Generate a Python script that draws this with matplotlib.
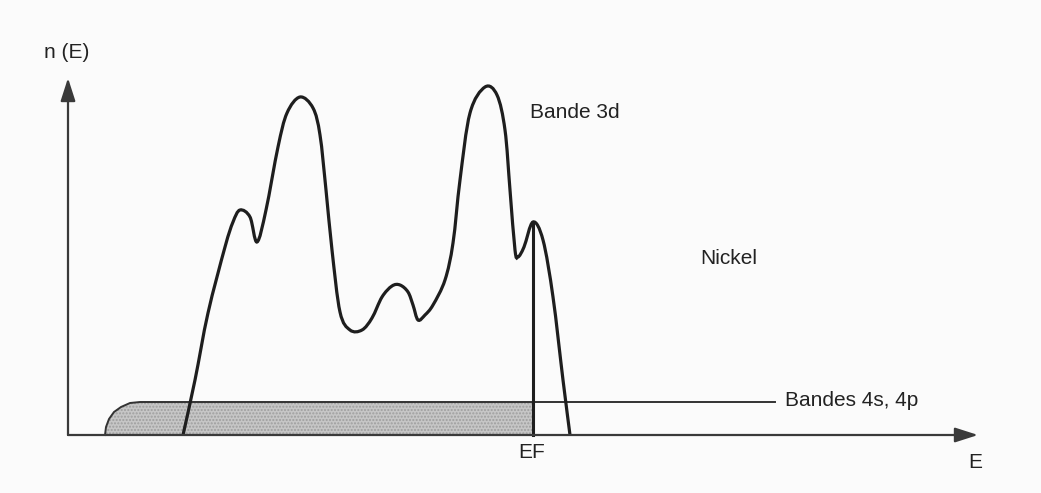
import numpy as np
import matplotlib
matplotlib.use("Agg")
import matplotlib.pyplot as plt
from matplotlib.path import Path
from matplotlib.patches import PathPatch, Rectangle

plt.rcParams['font.family'] = ['Liberation Sans', 'DejaVu Sans']

# 3d band density of states (E, n(E))
e_3d = [115, 127, 140, 157, 165, 172, 182, 189, 198, 210, 219, 232, 245, 252,
        258, 264, 272, 282, 294, 304, 314, 324, 332, 340, 345, 350, 357, 365, 377,
        385, 392, 402, 417, 429, 437, 442, 447, 450, 456, 465, 475, 485, 495, 502]
n_3d = [0, 55, 122, 188, 213, 225, 218, 193, 225, 288, 322, 338, 327, 300,
        245, 185, 123, 105, 105, 117, 138, 149, 150, 143, 130, 115, 120, 130, 155,
        192, 255, 322, 348, 340, 305, 245, 185, 178, 188, 213, 195, 138, 55, 0]

# 4s, 4p band
e_4s = [37, 38, 41, 46, 53, 62, 72, 707]
n_4s = [0, 8, 16, 23, 28, 32, 33, 33]

e_fermi = 465
n_fermi = 213


def smooth_path(xs, ys):
    pts = np.column_stack([xs, ys]).astype(float)
    verts = [pts[0]]
    codes = [Path.MOVETO]
    last = len(pts) - 1
    for i in range(last):
        p0 = pts[max(i - 1, 0)]
        p1 = pts[i]
        p2 = pts[i + 1]
        p3 = pts[min(i + 2, last)]
        verts += [p1 + (p2 - p0) / 6, p2 - (p3 - p1) / 6, p2]
        codes += [Path.CURVE4] * 3
    return Path(verts, codes)


fig = plt.figure(figsize=(10.41, 4.93), dpi=100, facecolor='#fbfbfb')
ax = fig.add_axes([0, 0, 1, 1])
ax.set_xlim(-68, 973)
ax.set_ylim(-58, 435)
ax.axis('off')

line_col = '#1e1e1e'

# 4s band shaded up to E_F
clip = Rectangle((-68, -1), 68 + e_fermi, 500, transform=ax.transData)
band_poly = np.column_stack([e_4s + [e_4s[-1]], n_4s + [0]])
p = ax.add_patch(plt.Polygon(band_poly, facecolor='#c6c6c6', edgecolor='#9e9e9e',
                             hatch='.....', lw=0, zorder=2))
p.set_clip_path(clip)

# band outlines
curve = smooth_path(e_3d, n_3d)
ax.plot(e_4s, n_4s, color='#333333', lw=1.4, zorder=3)
ax.add_patch(PathPatch(curve, facecolor='none', edgecolor=line_col, lw=2.3, zorder=4))
ax.plot([e_fermi, e_fermi], [0, n_fermi], color=line_col, lw=2.2, zorder=4)

# axes with arrows
ax.annotate('', xy=(910, 0), xytext=(0, 0),
            arrowprops=dict(arrowstyle='-|>,head_length=1.4,head_width=0.45',
                            color='#3a3a3a', lw=1.6, shrinkA=0, shrinkB=0), zorder=5)
ax.annotate('', xy=(0, 357), xytext=(0, 0),
            arrowprops=dict(arrowstyle='-|>,head_length=1.4,head_width=0.45',
                            color='#3a3a3a', lw=1.6, shrinkA=0, shrinkB=0), zorder=5)

# labels
fs = 15
ax.text(-1, 383, 'n (E)', fontsize=fs, ha='center', va='center', color='#222222')
ax.text(900, -27, 'E', fontsize=fs, ha='left', va='center', color='#222222')
ax.text(450, -17, 'EF', fontsize=fs, ha='left', va='center', color='#222222')
ax.text(462, 323, 'Bande 3d', fontsize=fs, ha='left', va='center', color='#222222')
ax.text(632, 177, 'Nickel', fontsize=fs, ha='left', va='center', color='#222222')
ax.text(717, 34, 'Bandes 4s, 4p', fontsize=fs, ha='left', va='center', color='#222222')

fig.savefig('out.png', dpi=100, facecolor=fig.get_facecolor())
